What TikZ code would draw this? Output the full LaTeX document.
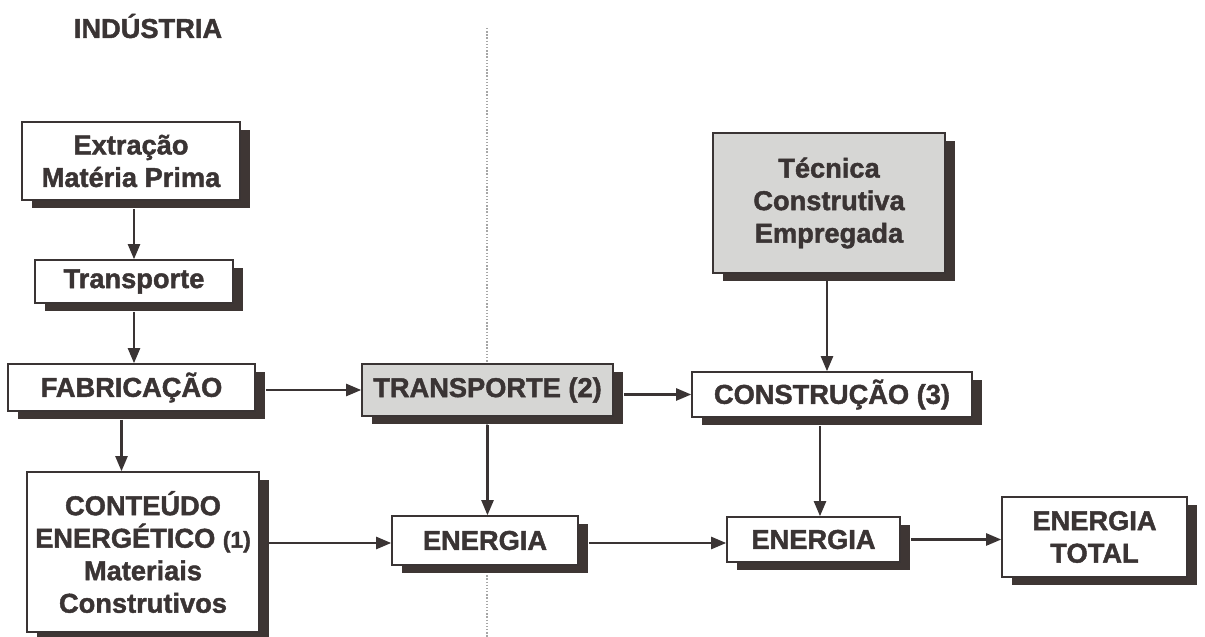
\documentclass[tikz,border=0pt]{standalone}
\usepackage{fontspec}
\setmainfont{Liberation Sans}[BoldFeatures={FakeBold=1.6}]
\definecolor{ink}{RGB}{58,52,52}
\definecolor{shade}{RGB}{62,54,52}
\definecolor{tint}{RGB}{214,214,212}
\usepackage{tikz}
\usetikzlibrary{arrows.meta,positioning,shadows,backgrounds,calc}
\tikzset{
  card/.style={draw=ink, line width=0.9pt, fill=white, inner sep=2pt,
              font=\fontsize{15.5}{18.5}\selectfont\bfseries, text=ink, align=center,
              drop shadow={shadow xshift=0.19cm, shadow yshift=-0.16cm, fill=shade, opacity=1}},
  greycard/.style={card, fill=tint},
  flow/.style={-{Triangle[length=0.3cm,width=0.24cm]}, ink, line width=1.3pt},
}
\begin{document}
\begin{tikzpicture}
        \useasboundingbox (0,0) rectangle (24.1,-12.74);
        \begin{scope}[on background layer]
          \draw[black!35, densely dotted, line width=0.8pt] (9.74,-0.56) -- (9.74,-12.74);
        \end{scope}

        \node[font=\fontsize{15.5}{18}\selectfont\bfseries, text=ink] (ind) at (2.96,-0.52) {INDÚSTRIA};

        \node[card, minimum width=4.36cm, minimum height=1.56cm] (extr) at (2.62,-3.22) {Extração\\Matéria Prima};
        \node[card, minimum width=3.96cm, minimum height=0.86cm] (transp) at (2.68,-5.63) {Transporte};
        \node[card, minimum width=4.94cm, minimum height=0.94cm] (fabr) at (2.63,-7.75) {FABRICAÇÃO};
        \node[card, minimum width=4.64cm, minimum height=3.2cm] (cont) at (2.86,-11.04) {CONTEÚDO\\ENERGÉTICO \fontsize{13}{18.5}\selectfont(1)\\Materiais\\Construtivos};

        \node[greycard, minimum width=5.02cm, minimum height=1.04cm] (transpb) at (9.75,-7.8) {TRANSPORTE (2)};
        \node[card, minimum width=3.72cm, minimum height=0.98cm] (enera) at (9.70,-10.81) {ENERGIA};

        \node[greycard, minimum width=4.64cm, minimum height=2.8cm] (tecn) at (16.58,-4.06) {Técnica\\Construtiva\\Empregada};
        \node[card, minimum width=5.6cm, minimum height=0.9cm] (constr) at (16.64,-7.89) {CONSTRUÇÃO (3)};
        \node[card, minimum width=3.46cm, minimum height=0.9cm] (enerb) at (16.27,-10.79) {ENERGIA};
        \node[card, minimum width=3.7cm, minimum height=1.6cm] (total) at (21.89,-10.74) {ENERGIA\\TOTAL};

        % industria column
        \draw[flow] ([yshift=-0.16cm]extr.south -| transp.north) -- (transp.north);
        \draw[flow] ([yshift=-0.16cm]transp.south) -- (transp.south |- fabr.north);
        \draw[flow] ([xshift=-0.2cm,yshift=-0.16cm]fabr.south) -- ([xshift=-0.2cm]fabr.south |- cont.north);

        % towards the right
        \draw[flow] ([xshift=0.2cm]fabr.east |- transpb.west) -- (transpb.west);
        \draw[flow] ([xshift=0.18cm,yshift=-0.05cm]cont.east |- enera.west) -- ([yshift=-0.05cm]enera.west);
        \draw[flow] ([yshift=-0.16cm]transpb.south) -- (transpb.south |- enera.north);
        \draw[flow] ([xshift=0.2cm]transpb.east |- constr.west) -- (constr.west);
        \draw[flow] ([xshift=-0.04cm,yshift=-0.14cm]tecn.south) -- ([xshift=-0.04cm]tecn.south |- constr.north);
        \draw[flow] ([xshift=-0.24cm,yshift=-0.16cm]constr.south) -- ([xshift=-0.24cm]constr.south |- enerb.north);
        \draw[flow] ([xshift=0.2cm,yshift=-0.05cm]enera.east) -- ([yshift=-0.05cm]enera.east -| enerb.west);
        \draw[flow] ([xshift=0.2cm]enerb.east) -- (enerb.east -| total.west);
\end{tikzpicture}
\end{document}
